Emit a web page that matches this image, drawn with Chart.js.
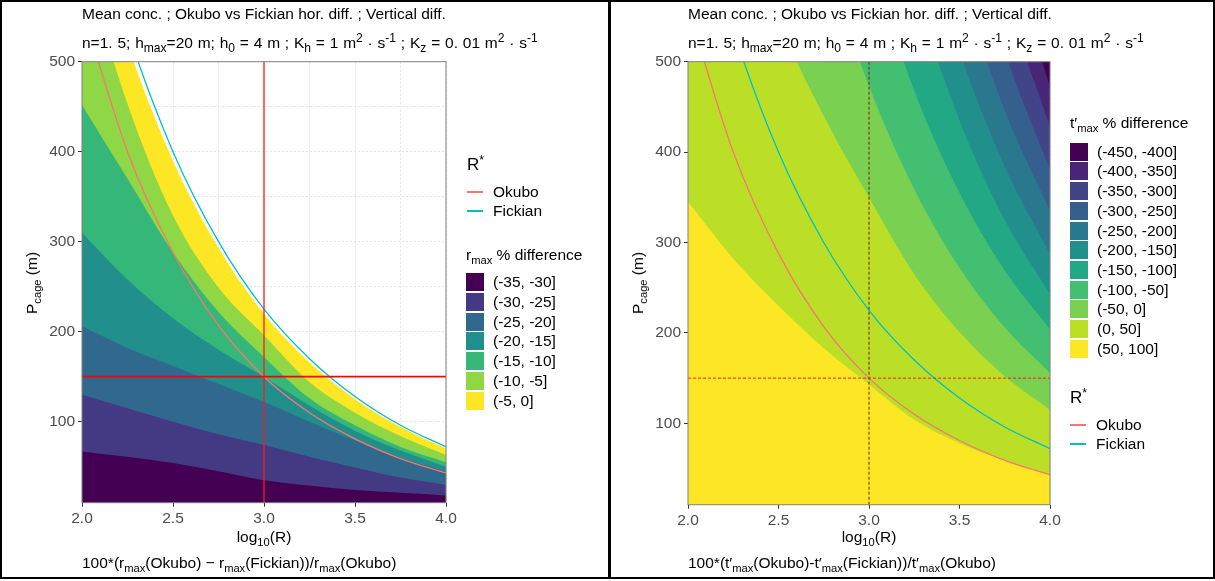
<!DOCTYPE html>
<html>
<head>
<meta charset="utf-8">
<script src="https://cdn.jsdelivr.net/npm/chart.js@4.4.1/dist/chart.umd.min.js"></script>
<style>
  body { margin: 0; width: 1215px; height: 581px; position: relative; overflow: hidden; background: #fff;
         font-family: "Liberation Sans", Arial, sans-serif; font-size: 15.5px; color: #000; }
  .panel { position: absolute; top: 0; height: 575px; border: 2px solid #000; }
  .panel canvas { position: absolute; left: 0; top: 0; }
  .txt { position: absolute; white-space: nowrap; line-height: 20px; }
  .mid { transform: translate(-50%, -50%); }
  .rot { transform: translate(-50%, -50%) rotate(-90deg); }
  sub, sup { font-size: 72%; line-height: 0; position: relative; vertical-align: baseline; }
  sub { top: 0.32em; }
  sup { top: -0.5em; }
  .t2 sub, .t2 sup { font-size: 78%; }
  .key { position: absolute; width: 18px; height: 18px; }
  .kline { position: absolute; width: 16px; height: 2px; }
</style>
</head>
<body>
<div class="panel" style="left:0; width:606px;"><canvas id="rmaxChart" width="606" height="575"></canvas></div>
<div class="panel" style="left:609px; width:602px;"><canvas id="tmaxChart" width="602" height="575"></canvas></div>

<script>
// grille en log10(R)
const logR = [2.0, 2.25, 2.5, 2.75, 3.0, 3.25, 3.5, 3.75, 4.0];

// R* : P_cage (m) en fonction de log10(R)
const okuboP   = [560, 400, 288, 207, 150, 110, 81, 59, 43];
const fickianP = [710, 535, 400, 300, 225, 170, 128, 96, 72];

// point de reference (lignes rouges)
const refLogR = 3.0;
const refPcage = 150;

// graduations
const xMajor = [2.0, 2.5, 3.0, 3.5, 4.0];
const xMinor = [2.25, 2.75, 3.25, 3.75];
const yMajor = [100, 200, 300, 400, 500];
const yMinor = [50, 150, 250, 350, 450];

// rmax % difference : limite haute de chaque classe
const rmaxBins   = ['(-35, -30]', '(-30, -25]', '(-25, -20]', '(-20, -15]', '(-15, -10]', '(-10, -5]', '(-5, 0]'];
const rmaxColors = ['#440154', '#443A83', '#31688E', '#21908C', '#35B779', '#8FD744', '#FDE725'];
const rmaxTop30 = [67, 61, 54, 45, 35, 29, 24, 21, 18];
const rmaxTop25 = [130, 115, 100, 86, 74, 61, 49, 38, 30];
const rmaxTop20 = [206, 182, 162, 142, 122, 100, 79, 60, 45];
const rmaxTop15 = [310, 258, 215, 180, 150, 118, 90, 68, 50];
const rmaxTop10 = [452, 370, 288, 222, 172, 126, 96, 72, 55];
const rmaxTop5  = [617, 453, 329, 249, 196, 144, 110, 84, 63];
const rmaxTop0  = [690, 520, 390, 293, 220, 166, 125, 94, 70];

// t'max % difference : limite basse de chaque classe (au-dessus de (50, 100])
const tmaxBins   = ['(-450, -400]', '(-400, -350]', '(-350, -300]', '(-300, -250]', '(-250, -200]', '(-200, -150]',
                    '(-150, -100]', '(-100, -50]', '(-50, 0]', '(0, 50]', '(50, 100]'];
const tmaxColors = ['#440154', '#482576', '#414487', '#35608D', '#2A788E', '#21908C',
                    '#22A884', '#43BF71', '#7AD151', '#BBDF27', '#FDE725'];
const tmaxLow0    = [345, 282, 230, 183, 143, 104, 78, 59, 44];
const tmaxLow50   = [860, 680, 545, 440, 350, 265, 201, 152, 115];
const tmaxLow100  = [null, null, 820, 623, 473, 359, 272, 206, 156];
const tmaxLow150  = [null, null, null, 780, 617, 468, 355, 269, 204];
const tmaxLow200  = [null, null, null, null, 778, 582, 435, 325, 243];
const tmaxLow250  = [null, null, null, null, null, 683, 512, 384, 287];
const tmaxLow300  = [null, null, null, null, null, 792, 594, 446, 335];
const tmaxLow350  = [null, null, null, null, null, null, 690, 512, 380];
const tmaxLow400  = [null, null, null, null, null, null, 777, 577, 428];
const tmaxLow450  = [null, null, null, null, null, null, 850, 637, 472];

const FONT = '"Liberation Sans", Arial, sans-serif';

function pts(values) {
    return logR.map((x, i) => ({ x: x, y: values[i] }));
}

function bandSet(values, color, fill) {
    return {
        data: pts(values), fill: fill, backgroundColor: color,
        borderColor: 'transparent', borderWidth: 0, pointRadius: 0,
        cubicInterpolationMode: 'monotone', spanGaps: false
    };
}

function rstarSet(values, color) {
    return {
        data: pts(values), fill: false, borderColor: color, borderWidth: 1.3,
        pointRadius: 0, cubicInterpolationMode: 'monotone'
    };
}

// fond, lignes de reference et cadre du panneau
const panelDeco = {
    id: 'panelDeco',
    beforeDatasetsDraw(chart, args, o) {
        if (!o.base) return;
        const a = chart.chartArea, ctx = chart.ctx;
        ctx.save();
        ctx.fillStyle = o.base;
        ctx.fillRect(a.left, a.top, a.right - a.left, a.bottom - a.top);
        ctx.restore();
    },
    afterDatasetsDraw(chart, args, o) {
        const ctx = chart.ctx, a = chart.chartArea;
        const px = chart.scales.x.getPixelForValue(refLogR);
        const py = chart.scales.y.getPixelForValue(refPcage);
        ctx.save();
        ctx.beginPath();
        ctx.rect(a.left, a.top, a.right - a.left, a.bottom - a.top);
        ctx.clip();
        ctx.strokeStyle = o.vColor; ctx.lineWidth = o.vWidth; ctx.setLineDash(o.vDash);
        ctx.beginPath(); ctx.moveTo(px, a.top); ctx.lineTo(px, a.bottom); ctx.stroke();
        ctx.strokeStyle = o.hColor; ctx.lineWidth = o.hWidth; ctx.setLineDash(o.hDash);
        ctx.beginPath(); ctx.moveTo(a.left, py); ctx.lineTo(a.right, py); ctx.stroke();
        ctx.restore();
    },
    afterDraw(chart) {
        const ctx = chart.ctx, a = chart.chartArea;
        ctx.save();
        ctx.strokeStyle = '#808080'; ctx.lineWidth = 1;
        ctx.strokeRect(a.left, a.top, a.right - a.left, a.bottom - a.top);
        ctx.restore();
    }
};

function axes() {
    const gridColor = 'rgba(225, 225, 225, 0.9)';
    return {
        x: {
            type: 'linear', min: 2, max: 4, z: 1,
            afterBuildTicks: s => { s.ticks = xMajor.concat(xMinor).sort((a, b) => a - b).map(v => ({ value: v })); },
            afterFit: s => { s.height = 30; },
            ticks: { autoSkip: false, maxRotation: 0, padding: 3, color: '#4d4d4d', font: { family: FONT, size: 15.5 },
                     callback: v => xMajor.includes(v) ? v.toFixed(1) : '' },
            grid: { color: gridColor, lineWidth: 1, tickLength: 4,
                    tickColor: c => xMajor.includes(c.tick.value) ? '#333' : 'rgba(0,0,0,0)' },
            border: { display: false, dash: [2, 2] }
        },
        y: {
            type: 'linear', min: 10, max: 500, z: 1,
            afterBuildTicks: s => { s.ticks = yMajor.concat(yMinor).sort((a, b) => a - b).map(v => ({ value: v })); },
            afterFit: s => { s.width = 50; },
            ticks: { autoSkip: false, padding: 3, color: '#4d4d4d', font: { family: FONT, size: 15.5 },
                     callback: v => yMajor.includes(v) ? String(v) : '' },
            grid: { color: gridColor, lineWidth: 1, tickLength: 4,
                    tickColor: c => yMajor.includes(c.tick.value) ? '#333' : 'rgba(0,0,0,0)' },
            border: { display: false, dash: [2, 2] }
        }
    };
}

// panneau gauche : rmax
const rmaxTops = [rmaxTop30, rmaxTop25, rmaxTop20, rmaxTop15, rmaxTop10, rmaxTop5, rmaxTop0];
new Chart(document.getElementById('rmaxChart'), {
    type: 'line',
    data: {
        datasets: [rstarSet(okuboP, '#F8766D'), rstarSet(fickianP, '#00BFC4')]
            .concat(rmaxTops.map((t, i) => bandSet(t, rmaxColors[i], 'start')))
    },
    options: {
        responsive: false, animation: false, devicePixelRatio: 1,
        layout: { padding: { left: 30, right: 162, top: 59.7, bottom: 44.3 } },
        plugins: {
            legend: { display: false }, tooltip: { enabled: false },
            panelDeco: { base: null, vColor: '#ff1a1a', vWidth: 1.3, vDash: [], hColor: '#ff0000', hWidth: 1.8, hDash: [] }
        },
        scales: axes()
    },
    plugins: [panelDeco]
});

// panneau droit : t'max
const tmaxLows = [tmaxLow450, tmaxLow400, tmaxLow350, tmaxLow300, tmaxLow250, tmaxLow200,
                  tmaxLow150, tmaxLow100, tmaxLow50, tmaxLow0];
new Chart(document.getElementById('tmaxChart'), {
    type: 'line',
    data: {
        datasets: [rstarSet(okuboP, '#F8766D'), rstarSet(fickianP, '#00BFC4')]
            .concat(tmaxLows.map((t, i) => bandSet(t, tmaxColors[i], 'end')))
    },
    options: {
        responsive: false, animation: false, devicePixelRatio: 1,
        layout: { padding: { left: 27, right: 163, top: 59.7, bottom: 42.3 } },
        plugins: {
            legend: { display: false }, tooltip: { enabled: false },
            panelDeco: { base: tmaxColors[10], vColor: '#8a1500', vWidth: 1, vDash: [3, 2], hColor: '#ff1a1a', hWidth: 1, hDash: [3, 2] }
        },
        scales: axes()
    },
    plugins: [panelDeco]
});

// textes et legendes (HTML)
function addText(html, left, top, cls, style) {
    const d = document.createElement('div');
    d.className = 'txt' + (cls ? ' ' + cls : '');
    d.innerHTML = html;
    d.style.left = left + 'px';
    d.style.top = top + 'px';
    if (style) d.style.cssText += style;
    document.body.appendChild(d);
    return d;
}

function addBox(cls, left, top, color) {
    const d = document.createElement('div');
    d.className = cls;
    d.style.left = left + 'px';
    d.style.top = top + 'px';
    d.style.background = color;
    document.body.appendChild(d);
}

const title1 = 'Mean conc. ; Okubo vs Fickian hor. diff. ; Vertical diff.';
const title2 = 'n=1. 5; h<sub>max</sub>=20 m; h<sub>0</sub> = 4 m ; K<sub>h</sub> = 1 m<sup>2</sup> · s<sup>-1</sup> ; K<sub>z</sub> = 0. 01 m<sup>2</sup> · s<sup>-1</sup>';

[[82, 264, 32, 'r<sub>max</sub>(Okubo) − r<sub>max</sub>(Fickian))/r<sub>max</sub>(Okubo)'],
 [688, 869, 638, 't′<sub>max</sub>(Okubo)-t′<sub>max</sub>(Fickian))/t′<sub>max</sub>(Okubo)']].forEach(p => {
    addText(title1, p[0], 4);
    addText(title2, p[0], 33, 't2', 'word-spacing:0.5px;');
    addText('P<sub>cage</sub> (m)', p[2], 283, 'rot');
    addText('log<sub>10</sub>(R)', p[1], 537, 'mid');
    addText('100*(' + p[3], p[0], 553);
});

function rstarLegend(left, top) {
    addText('R<sup>*</sup>', left, top - 10, '', 'font-size:17px;');
    [['Okubo', '#F8766D'], ['Fickian', '#00BFC4']].forEach((r, i) => {
        const y = Math.round(top + 26 + i * 19);
        addBox('kline', left, y, r[1]);
        addText(r[0], left + 26, y - 9);
    });
}

function binLegend(title, bins, colors, left, titleY, firstTop) {
    addText(title, left, titleY - 10);
    bins.forEach((b, i) => {
        const t = firstTop + i * 19.7;
        addBox('key', left, t, colors[i]);
        addText(b, left + 27, t - 1);
    });
}

rstarLegend(467, 165);
binLegend('r<sub>max</sub> % difference', rmaxBins, rmaxColors, 466, 255, 273.3);
binLegend('t′<sub>max</sub> % difference', tmaxBins, tmaxColors, 1070, 123, 142.7);
rstarLegend(1070, 398);
</script>
</body>
</html>
